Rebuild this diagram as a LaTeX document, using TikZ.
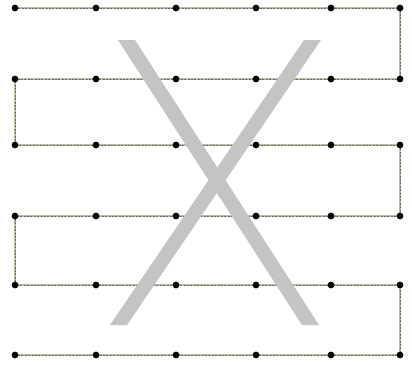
\documentclass[tikz,border=0pt]{standalone}
\usepackage{tikz}
\usetikzlibrary{backgrounds}
\definecolor{linebase}{RGB}{180,190,160}
\definecolor{linedash}{RGB}{105,108,96}
\definecolor{xgray}{RGB}{196,196,196}
\tikzset{
  dot/.style={circle,fill=black,inner sep=0pt,minimum size=6.8pt},
  wirebase/.style={draw=linebase,line width=1.6pt},
  wiredash/.style={draw=linedash,line width=0.7pt,dash pattern=on 2pt off 1.4pt},
  xstroke/.style={fill=xgray,draw=none}
}
\begin{document}
\begin{tikzpicture}[x=1pt,y=-1pt]
\useasboundingbox (0,0) rectangle (412,364);
% dots
\foreach \r/\yy in {1/8,2/79,3/145,4/216,5/285,6/355}{
  \foreach \c/\xx in {1/15,2/96,3/176,4/256,5/331,6/400}{
    \node[dot] (n\r\c) at (\xx,\yy) {};
  }
}
\begin{scope}[on background layer]
% serpentine connector
\foreach \s in {wirebase,wiredash}{
  \path[\s] (n11.center) -- (n12.center) -- (n13.center) -- (n14.center) -- (n15.center) -- (n16.center)
    -- (n26.center) -- (n25.center) -- (n24.center) -- (n23.center) -- (n22.center) -- (n21.center)
    -- (n31.center) -- (n32.center) -- (n33.center) -- (n34.center) -- (n35.center) -- (n36.center)
    -- (n46.center) -- (n45.center) -- (n44.center) -- (n43.center) -- (n42.center) -- (n41.center)
    -- (n51.center) -- (n52.center) -- (n53.center) -- (n54.center) -- (n55.center) -- (n56.center)
    -- (n66.center) -- (n65.center) -- (n64.center) -- (n63.center) -- (n62.center) -- (n61.center);
}
% the X
\fill[xstroke] (118,40) -- (135,40) -- (319,325) -- (302,325) -- cycle;
\fill[xstroke] (304,40) -- (321,40) -- (127,325) -- (110,325) -- cycle;
\end{scope}
\end{tikzpicture}
\end{document}
